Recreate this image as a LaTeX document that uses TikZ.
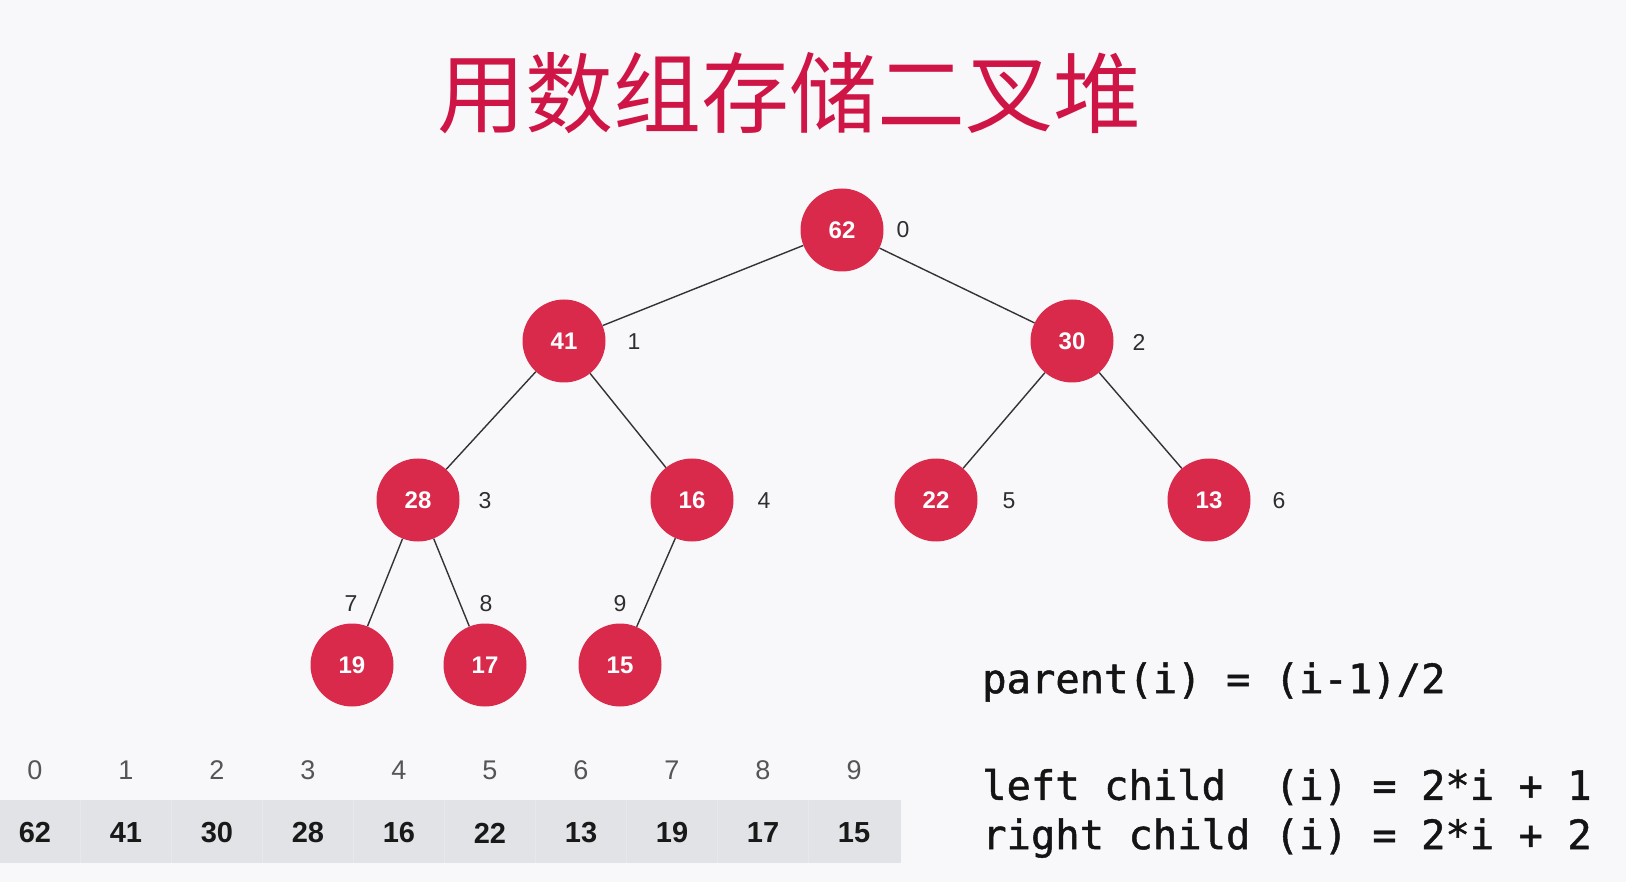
\documentclass[tikz,border=0pt]{standalone}
\usepackage{fontspec}
\setmainfont{Liberation Sans}
\newfontfamily\cjk{Noto Sans CJK SC}
\newfontfamily\monof[FakeBold=1.2]{DejaVu Sans Mono}
\definecolor{bgc}{HTML}{F8F8FA}
\definecolor{heapred}{HTML}{D92A4C}
\definecolor{titlered}{HTML}{CF1446}
\definecolor{bandc}{HTML}{E2E3E6}
\definecolor{sepc}{HTML}{E7E8EA}
\definecolor{idxc}{HTML}{2E2E2E}
\definecolor{arridx}{HTML}{555555}
\definecolor{edgec}{HTML}{333333}
\tikzset{
  heapnode/.style={circle, fill=heapred, minimum size=83pt, inner sep=0pt, text=white, font=\fontsize{24}{24}\selectfont\bfseries},
  idxlab/.style={text=idxc, font=\fontsize{23}{23}\selectfont, inner sep=0pt},
  arridxlab/.style={text=arridx, font=\fontsize{27}{27}\selectfont, inner sep=0pt},
  arrval/.style={text=black!90, font=\fontsize{29}{29}\selectfont\bfseries, inner sep=0pt},
  formula/.style={anchor=west, text=black!92, font=\monof\fontsize{40.5}{40.5}\selectfont, inner sep=0pt},
  edge/.style={draw=edgec, line width=1.4pt}
}
\begin{document}
\begin{tikzpicture}[x=1pt,y=-1pt]
\fill[bgc] (0,0) rectangle (1626,882);
\useasboundingbox (0,0) rectangle (1626,882);
% title
\node[text=titlered, font=\cjk\fontsize{88}{88}\selectfont, inner sep=0pt] (title) at (789,93) {用数组存储二叉堆};
% heap nodes
\node[heapnode] (n0) at (842,230) {62};
\node[heapnode] (n1) at (564,341) {41};
\node[heapnode] (n2) at (1072,341) {30};
\node[heapnode] (n3) at (418,500) {28};
\node[heapnode] (n4) at (692,500) {16};
\node[heapnode] (n5) at (936,500) {22};
\node[heapnode] (n6) at (1209,500) {13};
\node[heapnode] (n7) at (352,665) {19};
\node[heapnode] (n8) at (485,665) {17};
\node[heapnode] (n9) at (620,665) {15};
% edges
\draw[edge] (n0) -- (n1);
\draw[edge] (n0) -- (n2);
\draw[edge] (n1) -- (n3);
\draw[edge] (n1) -- (n4);
\draw[edge] (n2) -- (n5);
\draw[edge] (n2) -- (n6);
\draw[edge] (n3) -- (n7);
\draw[edge] (n3) -- (n8);
\draw[edge] (n4) -- (n9);
% index labels
\node[idxlab] (l0) at (903,230) {0};
\node[idxlab] (l1) at (634,342) {1};
\node[idxlab] (l2) at (1139,342) {2};
\node[idxlab] (l3) at (485,501) {3};
\node[idxlab] (l4) at (764,501) {4};
\node[idxlab] (l5) at (1009,501) {5};
\node[idxlab] (l6) at (1279,501) {6};
\node[idxlab] (l7) at (351,604) {7};
\node[idxlab] (l8) at (486,604) {8};
\node[idxlab] (l9) at (620,604) {9};
% array band
\fill[bandc] (0,800) rectangle (901,863);
\foreach \k in {1,...,9} {
  \draw[sepc, line width=1pt] ({80+91*(\k-1)},800) -- ({80+91*(\k-1)},863);
}
\foreach \v [count=\k from 0] in {62,41,30,28,16,22,13,19,17,15} {
  \node[arridxlab] (a\k) at ({35+91*\k},770) {\k};
  \node[arrval] (v\k) at ({35+91*\k},833) {\v};
}
% formulas
\node[formula] (f1) at (982,682) {parent(i) = (i-1)/2};
\node[formula] (f2) at (982,787) {left child\ \ (i) = 2*i + 1};
\node[formula] (f3) at (982,838) {right child (i) = 2*i + 2};
\end{tikzpicture}
\end{document}
